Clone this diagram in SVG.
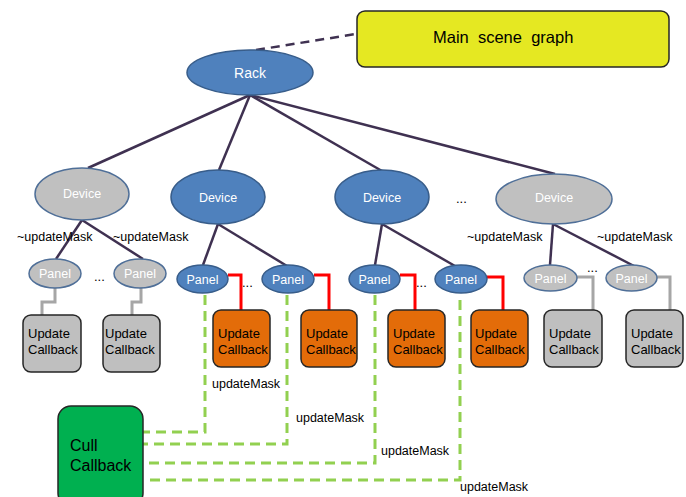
<svg xmlns="http://www.w3.org/2000/svg" width="686" height="497" viewBox="0 0 686 497">
  <style>
    text { font-family: "Liberation Sans", Arial, sans-serif; }
    .tree { stroke: #3f3151; stroke-width: 2.5; fill: none; }
    .note { stroke: #3f3151; stroke-width: 2.5; fill: none; stroke-dasharray: 9 6; }
    .gcb { stroke: #a6a6a6; stroke-width: 3; fill: none; }
    .rcb { stroke: #ff0000; stroke-width: 3; fill: none; }
    .mask { stroke: #92d050; stroke-width: 3; fill: none; stroke-dasharray: 10 6; }
    .blue { fill: #4f81bd; stroke: #385d8a; stroke-width: 1.5; }
    .grey { fill: #c0c0c0; stroke: #4f6f98; stroke-width: 1.5; }
    .wlbl { fill: #ffffff; text-anchor: middle; }
    .box { stroke: #262626; stroke-width: 1.5; }
    .gbox { fill: #bfbfbf; }
    .obox { fill: #e36c09; }
    .cbtxt { font-size: 13px; fill: #000000; }
    .lbl { font-size: 12.5px; fill: #000000; }
    .dots { font-size: 13px; fill: #000000; }
  </style>

  <!-- connectors -->
  <g id="connectors">
    <path class="note" d="M256,50 L356,34"/>
    <!-- rack to devices -->
    <path class="tree" d="M250,95 L88,168"/>
    <path class="tree" d="M250,95 L219,170"/>
    <path class="tree" d="M250,95 L382,171"/>
    <path class="tree" d="M250,95 L555,174"/>
    <!-- devices to panels -->
    <path class="tree" d="M82,220 L56,259"/>
    <path class="tree" d="M82,220 L143,259"/>
    <path class="tree" d="M218,224 L203,265"/>
    <path class="tree" d="M218,224 L287,266"/>
    <path class="tree" d="M382,224 L375,265"/>
    <path class="tree" d="M382,224 L455,266"/>
    <path class="tree" d="M553,224 L550,265"/>
    <path class="tree" d="M553,224 L634,266"/>
    <!-- panels to update callbacks -->
    <path class="gcb" d="M55,288 V302 H42 V315"/>
    <path class="gcb" d="M141,288 V302 H132 V315"/>
    <path class="rcb" d="M228,275 H241 V310"/>
    <path class="rcb" d="M314,275 H329 V310"/>
    <path class="rcb" d="M400,275 H415 V310"/>
    <path class="rcb" d="M487,277 H503 V310"/>
    <path class="gcb" d="M577,277 H593 V310"/>
    <path class="gcb" d="M657,277 H670 V310"/>
    <!-- update masks into the cull callback -->
    <path class="mask" d="M205,295 V432 H143"/>
    <path class="mask" d="M287,295 V444 H143"/>
    <path class="mask" d="M375,295 V463 H148"/>
    <path class="mask" d="M460,300 V480 H148"/>
  </g>

  <g id="main-scene-graph">
    <rect x="357" y="11" width="312" height="56" rx="8" fill="#e5e822" class="box"/>
    <text x="433" y="43" font-size="16.5" style="white-space:pre" fill="#000">Main  scene  graph</text>
  </g>

  <g id="rack">
    <ellipse cx="250" cy="72.5" rx="63" ry="22.5" class="blue"/>
    <text x="250" y="78" font-size="14" class="wlbl">Rack</text>
  </g>

  <g id="device-1">
    <ellipse cx="82" cy="194" rx="47" ry="26" class="grey"/>
    <text x="82" y="198" font-size="12.5" class="wlbl">Device</text>
  </g>
  <g id="device-2">
    <ellipse cx="218" cy="197" rx="47" ry="27" class="blue"/>
    <text x="218" y="201.5" font-size="12.5" class="wlbl">Device</text>
  </g>
  <g id="device-3">
    <ellipse cx="382" cy="197" rx="47" ry="27" class="blue"/>
    <text x="382" y="201.5" font-size="12.5" class="wlbl">Device</text>
  </g>
  <g id="device-4">
    <ellipse cx="554" cy="199" rx="58" ry="25" class="grey"/>
    <text x="554" y="202" font-size="12.5" class="wlbl">Device</text>
  </g>

  <g id="panel-1a">
    <ellipse cx="55" cy="273.5" rx="26" ry="14.5" class="grey"/>
    <text x="55" y="278" font-size="12.5" class="wlbl">Panel</text>
  </g>
  <g id="panel-1b">
    <ellipse cx="140" cy="273.5" rx="26" ry="14.5" class="grey"/>
    <text x="140" y="278" font-size="12.5" class="wlbl">Panel</text>
  </g>
  <g id="panel-2a">
    <ellipse cx="202.5" cy="279" rx="25.5" ry="14" class="blue"/>
    <text x="202.5" y="283.5" font-size="12.5" class="wlbl">Panel</text>
  </g>
  <g id="panel-2b">
    <ellipse cx="288" cy="279" rx="26" ry="14" class="blue"/>
    <text x="288" y="283.5" font-size="12.5" class="wlbl">Panel</text>
  </g>
  <g id="panel-3a">
    <ellipse cx="374.5" cy="279" rx="25.5" ry="14" class="blue"/>
    <text x="374.5" y="283.5" font-size="12.5" class="wlbl">Panel</text>
  </g>
  <g id="panel-3b">
    <ellipse cx="461" cy="279" rx="26" ry="14" class="blue"/>
    <text x="461" y="283.5" font-size="12.5" class="wlbl">Panel</text>
  </g>
  <g id="panel-4a">
    <ellipse cx="550.5" cy="278" rx="26.5" ry="13" class="grey"/>
    <text x="550.5" y="282.5" font-size="12.5" class="wlbl">Panel</text>
  </g>
  <g id="panel-4b">
    <ellipse cx="631.5" cy="278" rx="25.5" ry="13" class="grey"/>
    <text x="631.5" y="282.5" font-size="12.5" class="wlbl">Panel</text>
  </g>

  <g id="update-callback-1a">
    <rect x="23" y="315" width="58" height="57" rx="8" class="box gbox"/>
    <text class="cbtxt"><tspan x="28" y="338">Update</tspan><tspan x="28" y="354">Callback</tspan></text>
  </g>
  <g id="update-callback-1b">
    <rect x="103" y="315" width="57" height="57" rx="8" class="box gbox"/>
    <text class="cbtxt"><tspan x="105" y="338">Update</tspan><tspan x="105" y="354">Callback</tspan></text>
  </g>
  <g id="update-callback-2a">
    <rect x="213" y="310" width="57" height="57" rx="8" class="box obox"/>
    <text class="cbtxt"><tspan x="218" y="338">Update</tspan><tspan x="218" y="354">Callback</tspan></text>
  </g>
  <g id="update-callback-2b">
    <rect x="301" y="310" width="56" height="57" rx="8" class="box obox"/>
    <text class="cbtxt"><tspan x="306" y="338">Update</tspan><tspan x="306" y="354">Callback</tspan></text>
  </g>
  <g id="update-callback-3a">
    <rect x="388" y="310" width="57" height="57" rx="8" class="box obox"/>
    <text class="cbtxt"><tspan x="393" y="338">Update</tspan><tspan x="393" y="354">Callback</tspan></text>
  </g>
  <g id="update-callback-3b">
    <rect x="471" y="310" width="57" height="57" rx="8" class="box obox"/>
    <text class="cbtxt"><tspan x="475" y="338">Update</tspan><tspan x="475" y="354">Callback</tspan></text>
  </g>
  <g id="update-callback-4a">
    <rect x="544" y="310" width="58" height="57" rx="8" class="box gbox"/>
    <text class="cbtxt"><tspan x="549" y="338">Update</tspan><tspan x="549" y="354">Callback</tspan></text>
  </g>
  <g id="update-callback-4b">
    <rect x="626" y="310" width="57" height="57" rx="8" class="box gbox"/>
    <text class="cbtxt"><tspan x="631" y="338">Update</tspan><tspan x="631" y="354">Callback</tspan></text>
  </g>

  <g id="cull-callback">
    <rect x="58" y="406" width="85" height="100" rx="13" fill="#00b050" class="box"/>
    <text font-size="16" fill="#000"><tspan x="70" y="451">Cull</tspan><tspan x="70" y="471">Callback</tspan></text>
  </g>

  <!-- edge labels -->
  <g id="labels">
    <text class="lbl" x="17" y="241">~updateMask</text>
    <text class="lbl" x="113" y="241">~updateMask</text>
    <text class="lbl" x="467" y="241">~updateMask</text>
    <text class="lbl" x="597" y="241">~updateMask</text>
    <text class="lbl" x="212" y="388">updateMask</text>
    <text class="lbl" x="296" y="422">updateMask</text>
    <text class="lbl" x="381" y="455">updateMask</text>
    <text class="lbl" x="460" y="491">updateMask</text>
    <text class="dots" x="94" y="281">...</text>
    <text class="dots" x="242" y="287">...</text>
    <text class="dots" x="416" y="287">...</text>
    <text class="dots" x="587" y="272">...</text>
    <text class="dots" x="456" y="203">...</text>
  </g>
</svg>
